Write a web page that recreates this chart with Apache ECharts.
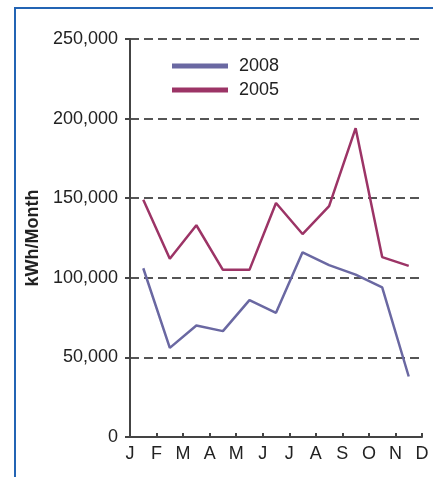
<!DOCTYPE html>
<html>
<head>
<meta charset="utf-8">
<script src="https://cdn.jsdelivr.net/npm/echarts@6/dist/echarts.min.js"></script>
<style>
html,body{margin:0;padding:0;background:#fff;}
#c{width:433px;height:477px;}
</style>
</head>
<body>
<div id="c"></div>
<script>
// Tick labels on the x axis (month boundaries)
var monthLabels = ['J','F','M','A','M','J','J','A','S','O','N','D'];
// Series values (kWh/Month), one per interval between month ticks
var values2008 = [106000, 56000, 70000, 66500, 86000, 78000, 116000, 108000, 102000, 94000, 38000];
var values2005 = [149000, 112000, 133000, 105000, 105000, 147000, 127500, 145000, 194000, 113000, 107500];
var yTicks = [0, 50000, 100000, 150000, 200000, 250000];

function toPoints(arr){
  return arr.map(function(v, i){ return [i + 0.5, v]; });
}

var chart = echarts.init(document.getElementById('c'), null, {renderer:'canvas'});
var font = 'Liberation Sans, Arial, Helvetica, sans-serif';
chart.setOption({
  animation: false,
  backgroundColor: '#fff',
  textStyle: {fontFamily: font},
  graphic: [{
    type: 'rect',
    shape: {x: 15, y: 8, width: 600, height: 600},
    style: {fill: 'none', stroke: '#2364b4', lineWidth: 2},
    z: 100
  }],
  grid: {left: 130, right: 11, top: 39, bottom: 40},
  legend: {
    orient: 'vertical',
    left: 172, top: 56, padding: 0,
    itemWidth: 56, itemHeight: 5, itemGap: 4,
    icon: 'rect',
    textStyle: {fontSize: 18, color: '#222', fontFamily: font, lineHeight: 20, padding: [0,0,0,6]},
    data: ['2008','2005']
  },
  xAxis: {
    type: 'value', min: 0, max: monthLabels.length - 1, interval: 1,
    axisLine: {lineStyle: {color: '#444', width: 2}},
    axisTick: {show: true, inside: true, length: 4, lineStyle: {color: '#444', width: 2}},
    axisLabel: {
      fontSize: 18, color: '#222', margin: 8, fontFamily: font,
      formatter: function(v){ return monthLabels[Math.round(v)] || ''; }
    },
    splitLine: {show: false}
  },
  yAxis: {
    type: 'value', min: yTicks[0], max: yTicks[yTicks.length-1], interval: yTicks[1]-yTicks[0],
    name: 'kWh/Month', nameLocation: 'middle', nameGap: 86,
    nameTextStyle: {fontSize: 18, fontWeight: 'bold', color: '#222', fontFamily: font},
    axisLine: {show: true, lineStyle: {color: '#444', width: 2}},
    axisTick: {show: true, length: 5, lineStyle: {color: '#444', width: 2}},
    axisLabel: {
      fontSize: 18, color: '#222', margin: 12, fontFamily: font,
      formatter: function(v){ return v.toLocaleString('en-US'); }
    },
    splitLine: {show: true, lineStyle: {color: '#555', width: 2, type: [9,5]}}
  },
  series: [
    {name: '2008', type: 'line', data: toPoints(values2008), symbol: 'none',
     lineStyle: {color: '#6a68a2', width: 2.5}, itemStyle: {color: '#6a68a2'}, z: 3},
    {name: '2005', type: 'line', data: toPoints(values2005), symbol: 'none',
     lineStyle: {color: '#9c3466', width: 2.5}, itemStyle: {color: '#9c3466'}, z: 3}
  ]
});
</script>
</body>
</html>
